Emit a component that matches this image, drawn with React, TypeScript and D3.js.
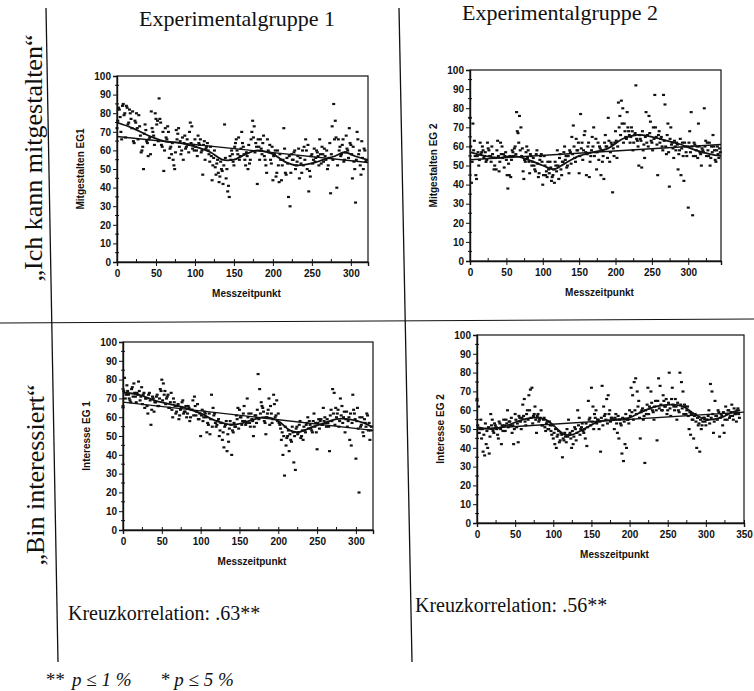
import React from "react";
import * as d3 from "d3";

// Messzeitpunkte
const timesEG1a = d3.range(0, 321, 2);
const timesEG1b = d3.range(1, 320, 2);
const timesEG2a = d3.range(0, 345, 2);
const timesEG2b = d3.range(1, 344, 2);

// "Ich kann mitgestalten" – EG 1
const mitgestaltenEG1a = [
  72, 83, 78, 66, 85, 80, 84, 74, 82, 77,
  81, 64, 75, 72, 79, 68, 60, 50, 74, 65,
  57, 67, 81, 70, 63, 77, 76, 88, 75, 62,
  49, 72, 66, 70, 61, 58, 55, 50, 71, 69,
  62, 58, 67, 64, 61, 66, 59, 75, 73, 63,
  66, 60, 68, 63, 59, 47, 65, 61, 64, 58,
  62, 44, 56, 51, 53, 48, 46, 50, 42, 74,
  45, 38, 35, 55, 58, 52, 64, 60, 67, 57,
  70, 62, 55, 59, 50, 53, 66, 76, 73, 64,
  42, 62, 66, 58, 68, 55, 48, 60, 63, 53,
  44, 58, 46, 60, 43, 55, 52, 72, 48, 56,
  35, 30, 58, 55, 60, 52, 57, 45, 53, 60,
  62, 66, 50, 38, 46, 58, 55, 54, 60, 57,
  66, 53, 58, 61, 55, 50, 56, 37, 73, 85,
  76, 40, 66, 62, 58, 66, 55, 68, 60, 72,
  63, 45, 54, 32, 70, 58, 52, 65, 50, 60,
  55,
];
const mitgestaltenEG1b = [
  76, 82, 70, 84, 79, 67, 83, 75, 80, 72,
  65, 76, 80, 66, 73, 59, 62, 69, 71, 64,
  66, 58, 72, 68, 80, 74, 65, 77, 63, 70,
  60, 67, 73, 56, 62, 64, 52, 59, 66, 72,
  65, 60, 55, 68, 62, 63, 70, 64, 61, 60,
  62, 57, 64, 66, 60, 63, 55, 62, 60, 54,
  57, 52, 60, 47, 55, 43, 54, 49, 52, 56,
  50, 41, 57, 60, 54, 62, 66, 58, 55, 61,
  64, 58, 52, 57, 63, 55, 70, 67, 59, 62,
  66, 55, 61, 64, 57, 52, 66, 59, 55, 62,
  57, 60, 48, 52, 58, 44, 55, 61, 47, 53,
  57, 48, 55, 59, 50, 54, 61, 56, 48, 52,
  55, 60, 63, 49, 57, 53, 61, 56, 59, 52,
  58, 62, 54, 57, 60, 52, 64, 58, 55, 66,
  67, 52, 60, 57, 63, 54, 59, 61, 56, 64,
  58, 62, 50, 55, 66, 60, 47, 56, 61, 54,
];

// "Ich kann mitgestalten" – EG 2
const mitgestaltenEG2a = [
  75, 41, 72, 63, 45, 55, 50, 62, 57, 58,
  55, 52, 62, 58, 55, 60, 54, 50, 48, 63,
  47, 62, 60, 56, 55, 53, 38, 45, 44, 58,
  55, 60, 78, 67, 76, 70, 59, 43, 52, 60,
  58, 46, 55, 52, 50, 47, 58, 44, 53, 56,
  40, 55, 45, 44, 48, 52, 42, 45, 41, 50,
  58, 43, 56, 45, 52, 60, 55, 50, 46, 57,
  65, 71, 54, 64, 58, 46, 77, 62, 58, 68,
  45, 60, 44, 55, 65, 70, 57, 48, 62, 60,
  45, 52, 43, 66, 60, 75, 52, 62, 36, 55,
  68, 54, 83, 76, 84, 80, 72, 65, 78, 68,
  62, 70, 58, 66, 92, 63, 50, 64, 49, 58,
  54, 78, 66, 76, 73, 62, 70, 87, 65, 45,
  68, 64, 60, 87, 82, 56, 72, 39, 70, 62,
  54, 60, 62, 48, 58, 45, 62, 42, 60, 55,
  28, 68, 78, 24, 62, 55, 60, 72, 57, 50,
  58, 80, 63, 62, 55, 50, 60, 66, 58, 52,
  60, 54, 57,
];
const mitgestaltenEG2b = [
  60, 52, 58, 55, 43, 57, 53, 56, 60, 54,
  57, 53, 59, 55, 52, 56, 48, 54, 58, 55,
  52, 56, 54, 49, 57, 45, 51, 55, 53, 57,
  59, 56, 68, 62, 58, 55, 47, 53, 57, 54,
  52, 56, 50, 54, 48, 56, 51, 46, 55, 52,
  45, 50, 47, 52, 46, 49, 44, 48, 52, 47,
  50, 54, 48, 52, 57, 53, 49, 55, 58, 51,
  56, 60, 52, 58, 62, 55, 59, 53, 66, 57,
  56, 62, 52, 58, 60, 55, 64, 57, 53, 59,
  58, 55, 62, 60, 54, 63, 57, 61, 59, 62,
  63, 60, 70, 66, 72, 62, 68, 64, 70, 66,
  65, 68, 62, 67, 64, 60, 66, 63, 68, 61,
  65, 62, 60, 67, 63, 58, 64, 70, 61, 66,
  62, 65, 58, 63, 60, 66, 57, 64, 61, 59,
  63, 58, 61, 56, 64, 59, 55, 62, 57, 60,
  62, 57, 60, 55, 61, 58, 54, 60, 56, 59,
  57, 60, 55, 58, 62, 54, 57, 60, 53, 58,
  56, 59,
];

// "Bin interessiert" – EG 1
const interesseEG1a = [
  66, 81, 72, 74, 70, 68, 76, 78, 71, 73,
  79, 69, 76, 72, 65, 70, 62, 73, 56, 71,
  63, 68, 72, 66, 75, 80, 78, 74, 70, 72,
  65, 73, 60, 68, 62, 66, 59, 64, 68, 62,
  63, 60, 66, 58, 64, 69, 71, 61, 67, 59,
  50, 64, 60, 62, 52, 56, 51, 72, 65, 62,
  55, 58, 50, 57, 48, 44, 56, 42, 47, 58,
  40, 52, 55, 61, 65, 64, 60, 58, 66, 56,
  70, 62, 55, 59, 50, 61, 57, 83, 75, 68,
  65, 58, 51, 62, 70, 66, 57, 72, 60, 69,
  62, 56, 48, 40, 29, 45, 50, 42, 48, 55,
  36, 32, 55, 52, 58, 50, 48, 53, 56, 60,
  58, 54, 52, 62, 57, 43, 59, 58, 56, 65,
  60, 55, 57, 42, 64, 75, 73, 65, 62, 55,
  70, 66, 60, 52, 63, 58, 48, 45, 72, 62,
  38, 65, 20, 55, 60, 50, 57, 62, 53, 48,
  55,
];
const interesseEG1b = [
  74, 70, 77, 72, 69, 75, 71, 73, 68, 72,
  74, 71, 67, 73, 70, 66, 72, 69, 64, 70,
  68, 71, 66, 70, 74, 69, 72, 67, 71, 65,
  68, 64, 70, 66, 63, 67, 61, 65, 69, 63,
  66, 62, 65, 60, 64, 61, 66, 63, 59, 62,
  61, 58, 63, 60, 57, 62, 59, 55, 61, 57,
  56, 59, 53, 57, 52, 55, 58, 51, 54, 56,
  53, 57, 55, 59, 54, 60, 56, 62, 58, 57,
  60, 57, 62, 58, 55, 61, 64, 59, 62, 66,
  63, 57, 60, 64, 56, 62, 59, 67, 61, 58,
  57, 54, 52, 50, 55, 49, 53, 51, 47, 52,
  50, 54, 51, 56, 49, 53, 55, 52, 57, 54,
  56, 53, 58, 55, 52, 57, 54, 59, 56, 58,
  57, 59, 55, 61, 58, 62, 56, 60, 64, 58,
  61, 57, 63, 59, 55, 60, 62, 57, 64, 59,
  58, 54, 60, 56, 52, 59, 55, 61, 57, 53,
];

// "Bin interessiert" – EG 2
const interesseEG2a = [
  66, 62, 50, 45, 38, 36, 42, 40, 37, 58,
  55, 48, 52, 50, 45, 53, 42, 49, 52, 55,
  60, 54, 52, 48, 42, 58, 51, 43, 56, 50,
  63, 66, 52, 60, 68, 71, 72, 57, 62, 48,
  58, 55, 60, 52, 56, 49, 54, 50, 52, 47,
  45, 42, 40, 47, 43, 48, 35, 44, 46, 50,
  55, 48, 40, 42, 51, 44, 60, 56, 50, 53,
  48, 45, 41, 65, 56, 72, 62, 58, 60, 55,
  50, 38, 73, 62, 58, 66, 68, 60, 56, 55,
  50, 58, 48, 45, 53, 37, 33, 42, 40, 55,
  60, 72, 68, 75, 77, 70, 65, 45, 60, 55,
  32, 58, 72, 62, 70, 60, 55, 65, 44, 77,
  73, 60, 68, 62, 66, 60, 80, 57, 72, 62,
  66, 55, 60, 80, 75, 70, 63, 58, 62, 50,
  47, 55, 45, 58, 40, 52, 38, 50, 54, 56,
  52, 55, 60, 74, 70, 48, 65, 57, 60, 46,
  58, 52, 48, 62, 55, 60, 57, 63, 55, 58,
  54, 61, 56,
];
const interesseEG2b = [
  52, 48, 55, 50, 47, 53, 49, 51, 46, 52,
  49, 53, 51, 47, 54, 50, 52, 55, 49, 53,
  51, 54, 56, 52, 50, 55, 53, 57, 54, 56,
  57, 54, 58, 55, 60, 56, 53, 58, 55, 57,
  54, 56, 52, 55, 51, 53, 50, 54, 49, 52,
  48, 50, 46, 49, 44, 47, 45, 48, 43, 46,
  47, 45, 49, 46, 50, 48, 52, 47, 51, 49,
  50, 53, 51, 55, 52, 54, 50, 56, 53, 55,
  54, 56, 52, 57, 55, 53, 58, 54, 56, 55,
  56, 53, 57, 55, 52, 56, 54, 58, 55, 53,
  57, 59, 55, 60, 58, 62, 56, 59, 61, 57,
  60, 63, 58, 61, 64, 59, 62, 60, 65, 61,
  63, 60, 65, 62, 58, 64, 61, 66, 63, 60,
  62, 64, 59, 63, 61, 58, 62, 60, 57, 59,
  58, 55, 57, 54, 56, 53, 55, 52, 56, 54,
  55, 57, 53, 56, 58, 54, 57, 55, 59, 56,
  57, 59, 55, 58, 60, 56, 59, 57, 61, 58,
  60, 58,
];

// smoothed curves (knots)
const smoothMitEG1T = [0, 20, 40, 60, 80, 100, 120, 135, 150, 165, 180, 200, 215, 230, 250, 265, 280, 292, 305, 320];
const smoothMitEG1V = [75, 72, 68, 65, 64, 62, 59, 55, 55, 58, 60, 58, 54, 52, 53, 55, 57, 59, 57, 55];
const smoothMitEG2T = [0, 20, 40, 60, 80, 100, 115, 130, 150, 170, 190, 210, 230, 250, 270, 290, 310, 330, 345];
const smoothMitEG2V = [57, 55, 54, 55, 53, 50, 48, 51, 55, 57, 59, 64, 66, 65, 63, 61, 58, 56, 55];
const smoothIntEG1T = [0, 20, 40, 60, 80, 100, 120, 140, 155, 170, 185, 200, 215, 225, 245, 260, 275, 290, 310, 320];
const smoothIntEG1V = [73, 72, 69, 67, 65, 62, 58, 56, 57, 59, 60, 58, 53, 52, 55, 57, 59, 59, 57, 55];
const smoothIntEG2T = [0, 20, 40, 60, 75, 90, 100, 115, 125, 140, 160, 180, 200, 215, 235, 255, 270, 285, 300, 320, 335, 345];
const smoothIntEG2V = [51, 50, 52, 55, 56, 55, 52, 47, 47, 50, 54, 55, 56, 59, 62, 63, 62, 58, 55, 56, 59, 60];

// linear trends (start, end)
const trendMitEG1 = [67.5, 53.5];
const trendMitEG2 = [53, 61];
const trendIntEG1 = [68, 53];
const trendIntEG2 = [50, 59];

const xTicks300 = [0, 50, 100, 150, 200, 250, 300];
const xTicks350 = [0, 50, 100, 150, 200, 250, 300, 350];
const yTicks = d3.range(0, 101, 10);

const sans = "'Liberation Sans', Arial, sans-serif";
const serif = "'Liberation Serif', 'Times New Roman', serif";
const ink = "#111";

function Panel({ left, top, bottom, width, xMax, xTicks, yLabel, times, values, smoothT, smoothV, trend }) {
  const ref = React.useRef(null);
  const height = bottom - top;

  React.useEffect(() => {
    const g = d3.select(ref.current);
    g.selectAll("*").remove();

    const x = d3.scaleLinear().domain([0, xMax]).range([0, width]);
    const y = d3.scaleLinear().domain([0, 100]).range([height, 0]);

    // frame
    g.append("rect")
      .attr("width", width)
      .attr("height", height)
      .attr("fill", "none")
      .attr("stroke", ink)
      .attr("stroke-width", 1.2);

    // y axis
    const yAxis = d3.axisLeft(y).tickValues(yTicks).tickSize(4).tickPadding(2);
    g.append("g")
      .call(yAxis)
      .call((s) => s.select(".domain").attr("stroke", ink).attr("stroke-width", 1.4))
      .call((s) => s.selectAll(".tick line").attr("stroke", ink))
      .selectAll("text")
      .style("font-family", sans)
      .style("font-size", "10px")
      .style("font-weight", "bold")
      .attr("fill", ink);

    g.append("g")
      .selectAll("line")
      .data(d3.range(5, 100, 10))
      .join("line")
      .attr("x1", -2)
      .attr("x2", 2)
      .attr("y1", (d) => y(d))
      .attr("y2", (d) => y(d))
      .attr("stroke", ink);

    // x axis
    const xAxis = d3.axisBottom(x).tickValues(xTicks).tickSize(4).tickPadding(4);
    g.append("g")
      .attr("transform", `translate(0,${height})`)
      .call(xAxis)
      .call((s) => s.select(".domain").attr("stroke", ink).attr("stroke-width", 1.4))
      .call((s) => s.selectAll(".tick line").attr("stroke", ink).attr("y1", -3))
      .selectAll("text")
      .style("font-family", sans)
      .style("font-size", "10px")
      .style("font-weight", "bold")
      .attr("fill", ink);

    g.append("g")
      .selectAll("line")
      .data(d3.range(25, xMax, 50))
      .join("line")
      .attr("x1", (d) => x(d))
      .attr("x2", (d) => x(d))
      .attr("y1", height - 3)
      .attr("y2", height)
      .attr("stroke", ink);

    // axis titles
    g.append("text")
      .attr("x", x(xMax) / 2 + 4)
      .attr("y", height + 35)
      .attr("text-anchor", "middle")
      .style("font-family", sans)
      .style("font-size", "10px")
      .style("font-weight", "bold")
      .attr("fill", ink)
      .text("Messzeitpunkt");

    g.append("text")
      .attr("transform", `translate(-33,${height / 2}) rotate(-90)`)
      .attr("text-anchor", "middle")
      .style("font-family", sans)
      .style("font-size", "10px")
      .style("font-weight", "bold")
      .attr("fill", ink)
      .text(yLabel);

    // points
    g.append("g")
      .selectAll("rect")
      .data(values)
      .join("rect")
      .attr("x", (d, i) => x(times[i]) - 1.5)
      .attr("y", (d) => y(d) - 1)
      .attr("width", 3)
      .attr("height", 2.2)
      .attr("fill", ink);

    // linear trend
    g.append("path")
      .datum(trend)
      .attr("d", d3.line().x((d, i) => x(i === 0 ? 0 : xMax)).y((d) => y(d)))
      .attr("fill", "none")
      .attr("stroke", ink)
      .attr("stroke-width", 1.4);

    // smoothed curve
    const smooth = d3
      .line()
      .x((d) => x(d))
      .y((d, i) => y(smoothV[i]))
      .curve(d3.curveCatmullRom);
    g.append("path")
      .datum(smoothT)
      .attr("d", smooth)
      .attr("fill", "none")
      .attr("stroke", ink)
      .attr("stroke-width", 1.8);
  }, [width, height, xMax]);

  return <g ref={ref} transform={`translate(${left},${top})`} />;
}

export default function App() {
  return (
    <svg width={754} height={691} style={{ position: "absolute", left: 0, top: 0, background: "#fff" }}>
      {/* dividers */}
      <line x1={46} y1={8} x2={58} y2={662} stroke={ink} strokeWidth={1.3} />
      <line x1={399} y1={8} x2={412} y2={662} stroke={ink} strokeWidth={1.3} />
      <line x1={0} y1={323} x2={754} y2={319} stroke={ink} strokeWidth={1} />

      <text x={237} y={26} textAnchor="middle" fontFamily={serif} fontSize={22} fill={ink}>
        Experimentalgruppe 1
      </text>
      <text x={560} y={20} textAnchor="middle" fontFamily={serif} fontSize={22} fill={ink}>
        Experimentalgruppe 2
      </text>

      <text transform="translate(42,158) rotate(-90)" textAnchor="middle" fontFamily={serif} fontSize={26} fill={ink}>
        „Ich kann mitgestalten“
      </text>
      <text transform="translate(44,475) rotate(-90)" textAnchor="middle" fontFamily={serif} fontSize={26} fill={ink}>
        „Bin interessiert“
      </text>

      <Panel left={117} top={76} bottom={262} width={251} xMax={322} xTicks={xTicks300}
        yLabel="Mitgestalten EG1" times={[...timesEG1a, ...timesEG1b]}
        values={[...mitgestaltenEG1a, ...mitgestaltenEG1b]}
        smoothT={smoothMitEG1T} smoothV={smoothMitEG1V} trend={trendMitEG1} />
      <Panel left={470} top={70} bottom={261} width={251} xMax={345} xTicks={xTicks300}
        yLabel="Mitgestalten EG 2" times={[...timesEG2a, ...timesEG2b]}
        values={[...mitgestaltenEG2a, ...mitgestaltenEG2b]}
        smoothT={smoothMitEG2T} smoothV={smoothMitEG2V} trend={trendMitEG2} />
      <Panel left={123} top={342} bottom={530} width={250} xMax={322} xTicks={xTicks300}
        yLabel="Interesse EG 1" times={[...timesEG1a, ...timesEG1b]}
        values={[...interesseEG1a, ...interesseEG1b]}
        smoothT={smoothIntEG1T} smoothV={smoothIntEG1V} trend={trendIntEG1} />
      <Panel left={477} top={335} bottom={523} width={267} xMax={350} xTicks={xTicks350}
        yLabel="Interesse EG 2" times={[...timesEG2a, ...timesEG2b]}
        values={[...interesseEG2a, ...interesseEG2b]}
        smoothT={smoothIntEG2T} smoothV={smoothIntEG2V} trend={trendIntEG2} />

      <text x={68} y={620} fontFamily={serif} fontSize={20} fill={ink}>
        Kreuzkorrelation: .63**
      </text>
      <text x={415} y={612} fontFamily={serif} fontSize={20} fill={ink}>
        Kreuzkorrelation: .56**
      </text>
      <text x={45} y={686} fontFamily={serif} fontSize={19} fontStyle="italic" fill={ink}>
        **
      </text>
      <text x={72} y={686} fontFamily={serif} fontSize={19} fontStyle="italic" fill={ink}>
        p ≤ 1 %
      </text>
      <text x={160} y={686} fontFamily={serif} fontSize={19} fontStyle="italic" fill={ink}>
        * p ≤ 5 %
      </text>
    </svg>
  );
}
